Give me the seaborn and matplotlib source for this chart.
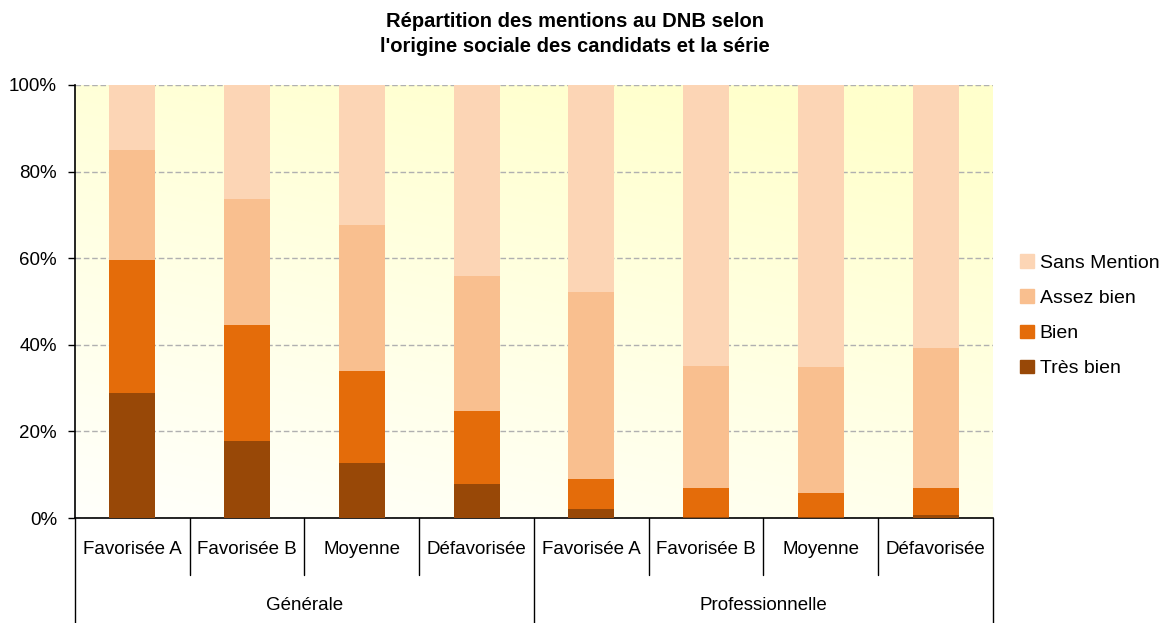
import numpy as np
import pandas as pd
import matplotlib
matplotlib.use("Agg")
import matplotlib.pyplot as plt
import matplotlib.patches as mpatches
import seaborn as sns

sns.set_style("white")
plt.rcParams['font.family'] = ['Liberation Sans', 'DejaVu Sans']
plt.rcParams['text.color'] = 'black'
plt.rcParams['ytick.color'] = 'black'

# Data (share of candidates, %)
groups = ["Générale", "Professionnelle"]
origines = ["Favorisée A", "Favorisée B", "Moyenne", "Défavorisée"]
tres_bien = [28.8, 17.9, 12.6, 7.8, 2.1, 0.2, 0.2, 0.8]
bien = [30.8, 26.7, 21.4, 17.0, 6.9, 6.8, 5.5, 6.2]
assez_bien = [25.4, 29.1, 33.7, 31.1, 43.3, 28.2, 29.2, 32.3]
sans_mention = [15.0, 26.3, 32.3, 44.1, 47.7, 64.8, 65.1, 60.7]

mentions = ["Très bien", "Bien", "Assez bien", "Sans Mention"]
colors = {"Très bien": "#984807", "Bien": "#E46C0A",
          "Assez bien": "#F9BF8F", "Sans Mention": "#FCD5B5"}

keys = [f"{g}|{o}" for g in groups for o in origines]
df = pd.DataFrame({"key": keys, "Très bien": tres_bien, "Bien": bien,
                   "Assez bien": assez_bien, "Sans Mention": sans_mention})
# normalise to 100 %
tot = df[mentions].sum(axis=1)
for m in mentions:
    df[m] = df[m] / tot * 100

fig = plt.figure(figsize=(11.66, 6.23), dpi=100)
ax = fig.add_axes([0.0643, 0.1685, 0.7873, 0.6951])

# gradient background
yy, xx = np.mgrid[0:1:200j, 0:1:200j]
t = np.clip(0.75 * yy + 0.35 * xx, 0, 1)
white = np.array([1.0, 1.0, 0.985])
yellow = np.array([1.0, 1.0, 0.80])
img = white[None, None, :] * (1 - t[..., None]) + yellow[None, None, :] * t[..., None]
ax.imshow(img, extent=[0, 1, 0, 1], transform=ax.transAxes, origin="lower",
          aspect="auto", zorder=0)

# stacked bars: draw cumulative from top layer down
cum = df[mentions].cumsum(axis=1)
for m in reversed(mentions):
    sns.barplot(x=df["key"], y=cum[m], order=keys, color=colors[m],
                width=0.4, saturation=1, ax=ax, zorder=3, linewidth=0)

ax.set_xlim(-0.5, len(keys) - 0.5)
ax.set_ylim(0, 100)
ax.set_yticks(range(0, 101, 20))
ax.set_yticklabels([f"{v}%" for v in range(0, 101, 20)], fontsize=13.5)
ax.yaxis.grid(True, linestyle=(0, (4, 2)), color="#B0B0B0", linewidth=1, zorder=1)
ax.set_axisbelow(True)
ax.tick_params(axis="y", left=True, length=5, width=1, color="black",
               direction="out", pad=8)
ax.set_xticks([])
ax.set_xlabel("")
ax.set_ylabel("")
for s in ["top", "right"]:
    ax.spines[s].set_visible(False)
ax.spines["left"].set_color("black")
ax.spines["bottom"].set_color("black")
ax.spines["left"].set_linewidth(1.2)
ax.spines["bottom"].set_linewidth(1.2)

# multi-level category axis
trans = ax.get_xaxis_transform()
for i, k in enumerate(keys):
    ax.text(i, -0.072, k.split("|")[1], transform=trans, ha="center", va="center",
            fontsize=13.5)
for b in range(1, len(keys)):
    if b % 4 != 0:
        ax.plot([b - 0.5, b - 0.5], [0, -0.132], transform=trans, color="black",
                lw=1, clip_on=False)
for b in [0, 4, 8]:
    ax.plot([b - 0.5, b - 0.5], [0, -0.245], transform=trans, color="black",
            lw=1, clip_on=False)
for gi, g in enumerate(groups):
    ax.text(gi * 4 + 1.5, -0.203, g, transform=trans, ha="center", va="center",
            fontsize=13.5)

fig.text(0.493, 0.945,
         "Répartition des mentions au DNB selon\nl'origine sociale des candidats et la série",
         ha="center", va="center", fontsize=14.5, fontweight="bold", linespacing=1.4)

handles = [mpatches.Patch(color=colors[m], label=m) for m in reversed(mentions)]
fig.legend(handles=handles, loc="center left", bbox_to_anchor=(0.86, 0.493),
           frameon=False, fontsize=14, handlelength=0.7, handleheight=0.7,
           handletextpad=0.3, labelspacing=0.9)

fig.savefig("out.png", dpi=100)
